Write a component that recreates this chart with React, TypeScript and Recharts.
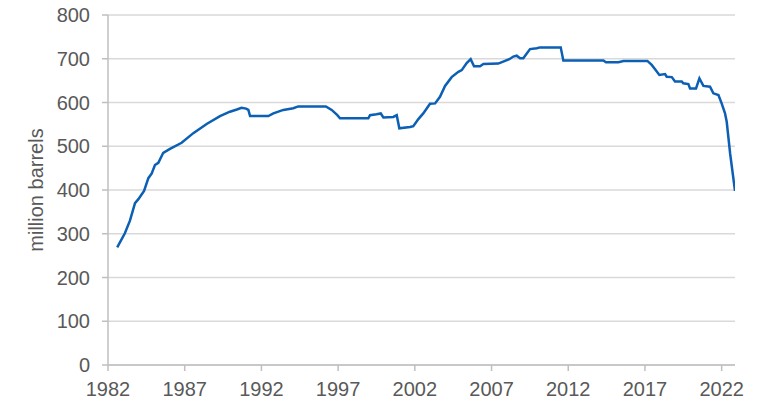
import { LineChart, Line, XAxis, YAxis, CartesianGrid } from 'recharts';

// decimal year of each reading
const years = [
  1982.6, 1983.1, 1983.43, 1983.76, 1983.98, 1984.35, 1984.63, 1984.85, 1985.06, 1985.28,
  1985.6, 1986.04, 1986.8, 1987.56, 1988.43, 1989.3, 1989.95, 1990.4, 1990.7, 1991.0,
  1991.15, 1991.26, 1992.45, 1992.78, 1993.43, 1994.08, 1994.4, 1996.2, 1996.58, 1996.95,
  1997.12, 1998.97, 1999.08, 1999.5, 1999.78, 1999.95, 2000.6, 2000.82, 2000.99, 2001.69,
  2001.9, 2002.23, 2002.55, 2002.99, 2003.32, 2003.64, 2003.97, 2004.4, 2004.84, 2005.06,
  2005.38, 2005.64, 2005.86, 2006.25, 2006.47, 2007.44, 2007.8, 2008.16, 2008.42, 2008.64,
  2008.86, 2009.07, 2009.51, 2009.95, 2010.16, 2011.51, 2011.68, 2014.29, 2014.46, 2015.27,
  2015.6, 2017.16, 2017.44, 2017.66, 2017.94, 2018.31, 2018.42, 2018.75, 2018.96, 2019.4,
  2019.5, 2019.83, 2019.94, 2020.33, 2020.55, 2020.81, 2021.24, 2021.46, 2021.79, 2022.0,
  2022.22, 2022.33, 2022.55, 2022.87,
];

// stocks, million barrels
const barrels = [
  269, 301, 330, 370, 379, 398, 427, 438, 457, 462,
  485, 494, 508, 530, 551, 569, 579, 584, 588, 586,
  583, 569, 569, 575, 583, 587, 591, 591, 583, 571,
  564, 564, 571, 573, 575, 566, 567, 571, 541, 544,
  546, 562, 575, 597, 598, 613, 638, 658, 670, 674,
  690, 699, 683, 683, 688, 689, 694, 699, 705, 707,
  701, 701, 722, 724, 726, 726, 696, 696, 692, 692,
  695, 695, 686, 676, 663, 665, 659, 658, 648, 648,
  644, 642, 632, 632, 655, 638, 636, 621, 617, 598,
  575, 556, 484, 398,
];

const xTicks = [1982, 1987, 1992, 1997, 2002, 2007, 2012, 2017, 2022];
const yTicks = [0, 100, 200, 300, 400, 500, 600, 700, 800];

const data = years.map((y, i) => ({ year: y, value: barrels[i] }));

const axisColor = '#bfbfbf';
const textStyle = { fill: '#595959', fontSize: 20, fontFamily: 'Liberation Sans, Arial, sans-serif' };

export default function App() {
  return (
    <div style={{ position: 'absolute', left: 0, top: 0 }}>
      <LineChart width={765} height={419} data={data} margin={{ top: 15, right: 30, bottom: 0, left: 0 }}>
        <CartesianGrid vertical={false} stroke="#d9d9d9" strokeWidth={1.5} />
        <XAxis
          dataKey="year"
          type="number"
          domain={[1982, 2022.87]}
          ticks={xTicks}
          allowDataOverflow
          height={54}
          stroke={axisColor}
          strokeWidth={1.5}
          tickSize={6}
          tickMargin={11}
          tick={textStyle}
        />
        <YAxis
          domain={[0, 800]}
          ticks={yTicks}
          width={108}
          stroke={axisColor}
          strokeWidth={1.5}
          tickSize={6}
          tickMargin={12}
          tick={textStyle}
          label={{
            value: 'million barrels',
            angle: -90,
            position: 'insideLeft',
            offset: 36,
            style: { ...textStyle, textAnchor: 'middle' },
          }}
        />
        <Line
          type="linear"
          dataKey="value"
          stroke="#0b5fb4"
          strokeWidth={2.5}
          dot={false}
          isAnimationActive={false}
        />
      </LineChart>
    </div>
  );
}
